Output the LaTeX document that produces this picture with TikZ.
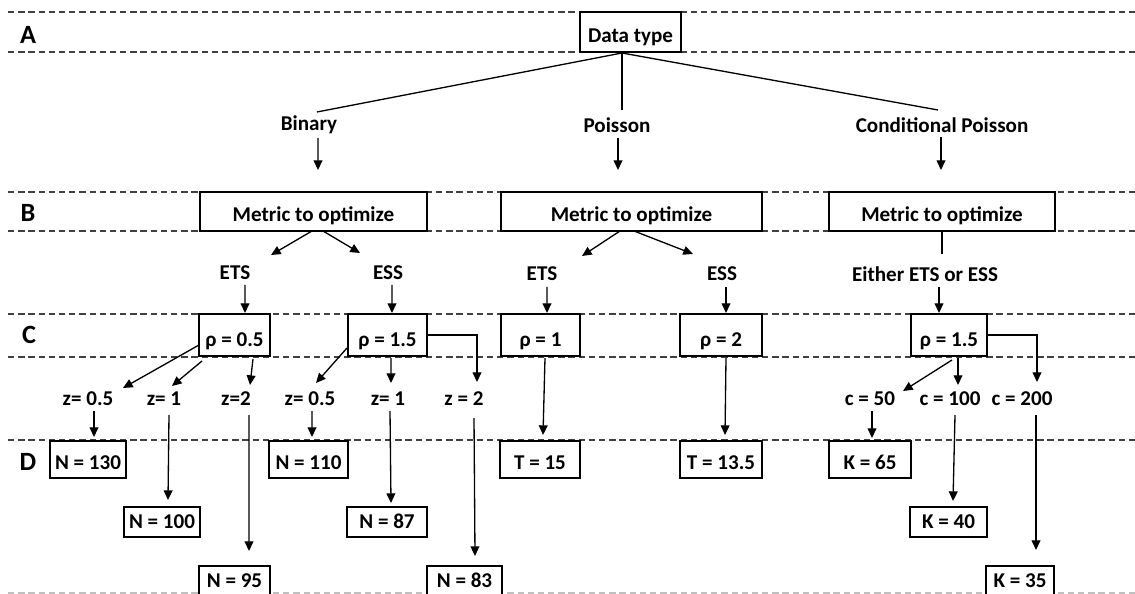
\documentclass[tikz,border=0pt]{standalone}
\usepackage{fontspec}
\setmainfont{Carlito}
\usetikzlibrary{arrows.meta}
\begin{document}
\begin{tikzpicture}[x=0.02cm,y=-0.02cm,
 every node/.style={font=\fontsize{12}{14}\selectfont\bfseries},
 bx/.style 2 args={draw,line width=1.1pt,fill=white,inner sep=0pt,text depth=0.18cm,minimum width=#1,text height=#2},
 lab/.style={inner sep=0pt},
 sec/.style={inner sep=0pt,font=\fontsize{15}{17}\selectfont\bfseries},
 arr/.style={line width=0.75pt,-{Triangle[length=5.5pt,width=5pt]}},
 ln/.style={line width=0.75pt},
 dsh/.style={line width=0.75pt,black!75,dash pattern=on 3.6pt off 2.2pt}]
\useasboundingbox (0,0) rectangle (1135,594);
\clip (0,0) rectangle (1135,594);
% band separators
\foreach \yy in {12,52,192,231,314,357,440} \draw[dsh] (8,\yy) -- (1135,\yy);
\draw[dsh,black!25] (8,593) -- (1135,593);
% section letters
\node[sec] (A) at (28,35) {A};
\node[sec] (B) at (28,213) {B};
\node[sec] (C) at (29,335) {C};
\node[sec] (D) at (28,462) {D};
% level A
\node[bx={2.02cm}{0.62cm}] (dt) at (630.5,32) {Data type};
\node[lab] (bin) at (309,125) {Binary};
\node[lab] (poi) at (617,125) {Poisson};
\node[lab] (cpo) at (942,125) {Conditional Poisson};
% level B
\node[bx={4.54cm}{0.60cm}] (mb1) at (313.5,211.5) {Metric to optimize};
\node[bx={5.22cm}{0.60cm}] (mb2) at (631.5,211.5) {Metric to optimize};
\node[bx={4.52cm}{0.60cm}] (mb3) at (942,211.5) {Metric to optimize};
\node[lab] (ets1) at (235,273) {ETS};
\node[lab] (ess1) at (388,273) {ESS};
\node[lab] (ets2) at (542,274) {ETS};
\node[lab] (ess2) at (722,274) {ESS};
\node[lab] (eith) at (925,274) {Either ETS or ESS};
% level C
\node[bx={1.42cm}{0.66cm}] (r1) at (234.5,335) {ρ = 0.5};
\node[bx={1.58cm}{0.66cm}] (r2) at (387.5,335) {ρ = 1.5};
\node[bx={1.58cm}{0.66cm}] (r3) at (540.5,335) {ρ = 1};
\node[bx={1.64cm}{0.66cm}] (r4) at (721,335) {ρ = 2};
\node[bx={1.52cm}{0.66cm}] (r5) at (949,335) {ρ = 1.5};
\node[lab] (za1) at (88,399) {z= 0.5};
\node[lab] (za2) at (164,399) {z= 1};
\node[lab] (za3) at (236,399) {z=2};
\node[lab] (zb1) at (310,399) {z= 0.5};
\node[lab] (zb2) at (388,399) {z= 1};
\node[lab] (zb3) at (464,399) {z = 2};
\node[lab] (c1) at (870,399) {c = 50};
\node[lab] (c2) at (950,399) {c = 100};
\node[lab] (c3) at (1022,399) {c = 200};
% level D
\node[bx={1.52cm}{0.56cm}] (n130) at (88,459.5) {N = 130};
\node[bx={1.58cm}{0.56cm}] (n110) at (308.5,459.5) {N = 110};
\node[bx={1.60cm}{0.56cm}] (t15) at (540,459.5) {T = 15};
\node[bx={1.64cm}{0.56cm}] (t135) at (721,459.5) {T = 13.5};
\node[bx={1.64cm}{0.56cm}] (k65) at (870,459.5) {K = 65};
\node[bx={1.52cm}{0.42cm}] (n100) at (162,522) {N = 100};
\node[bx={1.60cm}{0.42cm}] (n87) at (387,522) {N = 87};
\node[bx={1.54cm}{0.42cm}] (k40) at (948.5,522) {K = 40};
\node[bx={1.42cm}{0.42cm}] (n95) at (234.5,581) {N = 95};
\node[bx={1.50cm}{0.42cm}] (n83) at (464.5,581) {N = 83};
\node[bx={1.36cm}{0.42cm}] (k35) at (1020,581) {K = 35};
% A -> labels
\draw[ln] ([shift={(-8.5,21)}]dt.center) -- ([shift={(8,-13)}]bin.center);
\draw[ln] ([shift={(-8.5,21)}]dt.center) -- ([shift={(5,-15)}]poi.center);
\draw[ln] ([shift={(-8.5,21)}]dt.center) -- ([shift={(-4,-15)}]cpo.center);
\draw[arr] ([shift={(9,13)}]bin.center) -- ([shift={(4.5,-41.5)}]mb1.center);
\draw[arr] ([shift={(1,13)}]poi.center) -- ([shift={(-13.5,-41.5)}]mb2.center);
\draw[arr] ([shift={(-1,12)}]cpo.center) -- ([shift={(-1,-41.5)}]mb3.center);
% B -> metrics
\draw[arr] ([shift={(-1.5,19.5)}]mb1.center) -- ([shift={(36,-18)}]ets1.center);
\draw[arr] ([shift={(9.5,19.5)}]mb1.center) -- ([shift={(-28,-20)}]ess1.center);
\draw[arr] ([shift={(-11.5,19.5)}]mb2.center) -- ([shift={(40,-18)}]ets2.center);
\draw[arr] ([shift={(2.5,19.5)}]mb2.center) -- ([shift={(-29,-20)}]ess2.center);
\draw[ln] ([shift={(0,19.5)}]mb3.center) -- ([shift={(17,-20)}]eith.center);
% metrics -> rho
\draw[arr] ([shift={(10,12)}]ets1.center) -- ([shift={(10.5,-22)}]r1.center);
\draw[arr] ([shift={(4,12)}]ess1.center) -- ([shift={(4.5,-22)}]r2.center);
\draw[arr] ([shift={(5,13)}]ets2.center) -- ([shift={(6.5,-22)}]r3.center);
\draw[arr] ([shift={(4,13)}]ess2.center) -- ([shift={(5,-22)}]r4.center);
\draw[arr] ([shift={(14,13)}]eith.center) -- ([shift={(-10,-22)}]r5.center);
% rho -> z / c
\draw[arr] ([shift={(-35.5,10)}]r1.center) -- ([shift={(35,-11)}]za1.center);
\draw[arr] ([shift={(-32.5,26)}]r1.center) -- ([shift={(8,-13)}]za2.center);
\draw[arr] ([shift={(18.5,24)}]r1.center) -- ([shift={(14,-14)}]za3.center);
\draw[arr] ([shift={(-40.5,13)}]r2.center) -- ([shift={(6,-16)}]zb1.center);
\draw[arr] ([shift={(3.5,23)}]r2.center) -- ([shift={(3,-16)}]zb2.center);
\draw[arr] (r2.east) -| ([shift={(13,-17)}]zb3.center);
\draw[arr] ([shift={(4.5,23)}]r3.center) -- ([shift={(3,-24.5)}]t15.center);
\draw[arr] ([shift={(5,23)}]r4.center) -- ([shift={(4,-24.5)}]t135.center);
\draw[arr] ([shift={(3,25)}]r5.center) -- ([shift={(33,-8)}]c1.center);
\draw[arr] ([shift={(9,23)}]r5.center) -- ([shift={(8,-14)}]c2.center);
\draw[arr] (r5.east) -| ([shift={(15,-17)}]c3.center);
% z / c -> results
\draw[arr] ([shift={(6,12)}]za1.center) -- ([shift={(6,-22.5)}]n130.center);
\draw[arr] ([shift={(5,16)}]za2.center) -- ([shift={(6,-22)}]n100.center);
\draw[arr] ([shift={(13,16)}]za3.center) -- ([shift={(14.5,-30)}]n95.center);
\draw[arr] ([shift={(2,12)}]zb1.center) -- ([shift={(3.5,-22.5)}]n110.center);
\draw[arr] ([shift={(2,12)}]zb2.center) -- ([shift={(4,-19)}]n87.center);
\draw[arr] ([shift={(10,19)}]zb3.center) -- ([shift={(10.5,-25)}]n83.center);
\draw[arr] ([shift={(2,12)}]c1.center) -- ([shift={(2,-21.5)}]k65.center);
\draw[arr] ([shift={(5,16)}]c2.center) -- ([shift={(4.5,-21)}]k40.center);
\draw[arr] ([shift={(14,16)}]c3.center) -- ([shift={(16,-31)}]k35.center);
\end{tikzpicture}
\end{document}
